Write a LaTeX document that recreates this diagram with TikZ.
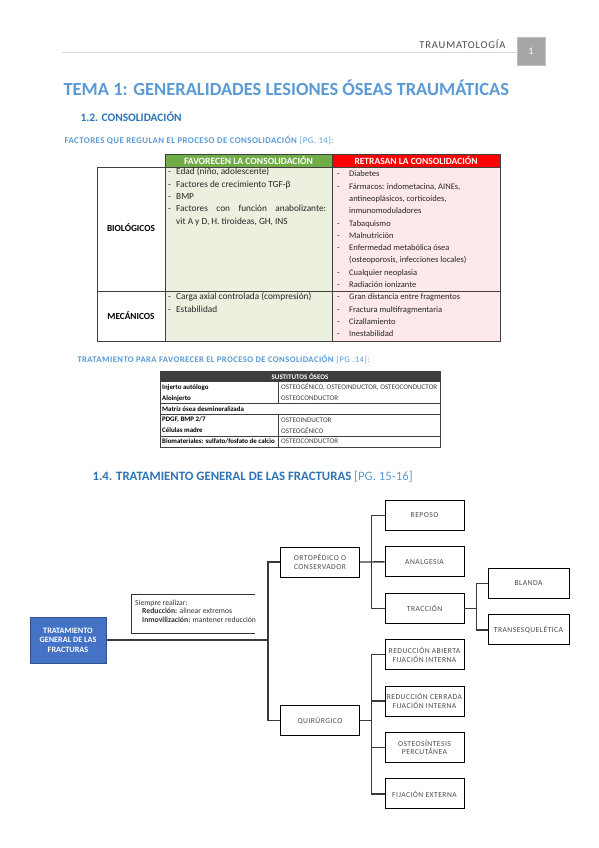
\documentclass[tikz,border=0pt]{standalone}
\usepackage{fontspec}
\setmainfont{Carlito}
\usepackage{array}
\usetikzlibrary{positioning}

\definecolor{titleblue}{HTML}{5B9BD5}
\definecolor{headblue}{HTML}{2E74B5}
\definecolor{boxblue}{HTML}{4472C4}
\definecolor{boxedge}{HTML}{2F528F}
\definecolor{favgreen}{HTML}{70AD47}
\definecolor{favlight}{HTML}{EBF1DE}
\definecolor{retred}{HTML}{FF0000}
\definecolor{retlight}{HTML}{FDE9E9}
\definecolor{rulegray}{HTML}{404040}
\definecolor{linkgray}{HTML}{3A3A3A}
\definecolor{pagegray}{HTML}{A6A6A6}
\definecolor{sustgray}{HTML}{3F3F3F}

\tikzset{
  cellrule/.style={draw=rulegray, line width=0.8pt},
  celltext/.style={inner sep=0pt, anchor=north west, font=\fontsize{8.5}{12.3}\selectfont, text=black!85},
  opt/.style={draw=black, fill=white, line width=0.9pt, minimum width=79pt, minimum height=30pt,
    inner sep=0pt, align=center, font=\fontsize{7.6}{8.6}\selectfont\addfontfeature{LetterSpace=6}, text=black!70},
  link/.style={draw=linkgray, line width=1.4pt},
}

\begin{document}
\begin{tikzpicture}[x=1pt,y=-1pt]
\useasboundingbox[fill=white] (0,0) rectangle (599,848);

% cabecera de pagina
\draw[black!15, line width=0.8pt] (62,52) -- (517,52);
\node[anchor=east, text=black!70, font=\fontsize{10.5}{12}\selectfont\addfontfeature{LetterSpace=8}] (cab) at (509,44) {TRAUMATOLOGÍA};
\node[fill=pagegray, draw=black!25, minimum width=28pt, minimum height=28pt, text=white,
  font=\fontsize{10}{12}\selectfont] (pag) at (531,51) {1};

\node[anchor=west, text=titleblue, font=\fontsize{18.5}{21}\selectfont\bfseries] (tema) at (60,88)
  {TEMA 1: GENERALIDADES LESIONES ÓSEAS TRAUMÁTICAS};
\node[anchor=west, text=headblue, font=\fontsize{11.4}{14}\selectfont\bfseries] (cons) at (77,117)
  {1.2. CONSOLIDACIÓN};
\node[anchor=west, text=titleblue, font=\fontsize{8.8}{10}\selectfont\addfontfeature{LetterSpace=5}] (factores) at (61,140)
  {\textbf{FACTORES QUE REGULAN EL PROCESO DE CONSOLIDACIÓN} [PG. 14]:};

% tabla de factores
\filldraw[cellrule, fill=favgreen] (165,154) rectangle (332,167);
\filldraw[cellrule, fill=retred] (332,154) rectangle (500,167);
\node[text=white, font=\fontsize{9.6}{10}\selectfont\bfseries] (favhead) at (248.5,160.5) {FAVORECEN LA CONSOLIDACIÓN};
\node[text=white, font=\fontsize{9.5}{10}\selectfont\bfseries] (rethead) at (416,160.5) {RETRASAN LA CONSOLIDACIÓN};

\filldraw[cellrule, fill=white] (97,167) rectangle (165,291);
\filldraw[cellrule, fill=white] (97,291) rectangle (165,341);
\filldraw[cellrule, fill=favlight] (165,167) rectangle (332,291);
\filldraw[cellrule, fill=favlight] (165,291) rectangle (332,341);
\filldraw[cellrule, fill=retlight] (332,167) rectangle (500,291);
\filldraw[cellrule, fill=retlight] (332,291) rectangle (500,341);

\node[font=\fontsize{9.3}{11}\selectfont\bfseries] (bio) at (131,228) {BIOLÓGICOS};
\node[font=\fontsize{9.3}{11}\selectfont\bfseries] (mec) at (131,316) {MECÁNICOS};

\node[celltext, font=\fontsize{9.3}{12.3}\selectfont] (favbio) at (168,166) {\begin{tabular}{@{}p{8pt}@{}p{150pt}@{}}
-&Edad (niño, adolescente)\\
-&Factores de crecimiento TGF-β\\
-&BMP\\
-&Factores con función anabolizante:\linebreak vit A y D, H. tiroideas, GH, INS
\end{tabular}};
\node[celltext, font=\fontsize{9.3}{12.3}\selectfont] (favmec) at (168,291) {\begin{tabular}{@{}p{8pt}@{}p{150pt}@{}}
-&Carga axial controlada (compresión)\\
-&Estabilidad
\end{tabular}};
\node[celltext] (retbio) at (337,168) {\begin{tabular}{@{}p{12pt}@{}p{148pt}@{}}
-&Diabetes\\
-&Fármacos: indometacina, AINEs,\\
&antineoplásicos, corticoides,\\
&inmunomoduladores\\
-&Tabaquismo\\
-&Malnutrición\\
-&Enfermedad metabólica ósea\\
&(osteoporosis, infecciones locales)\\
-&Cualquier neoplasia\\
-&Radiación ionizante
\end{tabular}};
\node[celltext] (retmec) at (337,291) {\begin{tabular}{@{}p{12pt}@{}p{148pt}@{}}
-&Gran distancia entre fragmentos\\
-&Fractura multifragmentaria\\
-&Cizallamiento\\
-&Inestabilidad
\end{tabular}};

\node[anchor=west, text=titleblue, font=\fontsize{8.6}{10}\selectfont\addfontfeature{LetterSpace=5}] (trat) at (74,359)
  {\textbf{TRATAMIENTO PARA FAVORECER EL PROCESO DE CONSOLIDACIÓN} [PG .14]:};

% sustitutos oseos
\fill[sustgray] (160,371) rectangle (440,382);
\node[text=white, font=\fontsize{7}{8}\selectfont\bfseries] (susthead) at (300,376.5) {SUSTITUTOS ÓSEOS};
\draw[cellrule, line width=0.6pt] (160,371) rectangle (440,447);
\draw[cellrule, line width=0.6pt] (160,403.6) -- (440,403.6);
\draw[cellrule, line width=0.6pt] (160,414.4) -- (440,414.4);
\draw[cellrule, line width=0.6pt] (160,436) -- (440,436);
\draw[cellrule, line width=0.6pt] (278,382) -- (278,403.6);
\draw[cellrule, line width=0.6pt] (278,414.4) -- (278,447);
\foreach \y/\izq/\der in {387.4/{Injerto autólogo}/{OSTEOGÉNICO, OSTEOINDUCTOR, OSTEOCONDUCTOR},
  398.2/{Aloinjerto}/{OSTEOCONDUCTOR}, 409/{Matriz ósea desmineralizada}/{},
  419.8/{PDGF, BMP 2/7}/{OSTEOINDUCTOR}, 430.6/{Células madre}/{OSTEOGÉNICO},
  441.4/{Biomateriales: sulfato/fosfato de calcio}/{OSTEOCONDUCTOR}}{
  \node[anchor=west, inner sep=0pt, font=\fontsize{6.9}{8}\selectfont\bfseries] at (162,\y) {\izq};
  \node[anchor=west, inner sep=0pt, text=black!75, font=\fontsize{7.1}{8}\selectfont] at (281,\y) {\der};
}

\node[anchor=west, text=headblue, font=\fontsize{12.8}{14}\selectfont\bfseries] (trgen) at (89,477)
  {1.4. TRATAMIENTO GENERAL DE LAS FRACTURAS \textcolor{titleblue}{\mdseries [PG. 15-16]}};

% esquema
\node[draw=boxedge, fill=boxblue, line width=1pt, minimum width=76pt, minimum height=46pt, inner sep=0pt,
  text=white, align=center, font=\fontsize{8.2}{9.6}\selectfont\bfseries] (main) at (68,640)
  {TRATAMIENTO\\GENERAL DE LAS\\FRACTURAS};

\node[opt] (orto) at (320,562) {ORTOPÉDICO O\\CONSERVADOR};
\node[opt] (quir) at (320,720.5) {QUIRÚRGICO};

\node[opt] (reposo) at (424.5,515.5) {REPOSO};
\node[opt, below=15.5pt of reposo] (analg) {ANALGESIA};
\node[opt, below=15.5pt of analg] (trac) {TRACCIÓN};
\node[opt, below=15.5pt of trac] (rabierta) {REDUCCIÓN ABIERTA\\FIJACIÓN INTERNA};
\node[opt, below=15.5pt of rabierta] (rcerrada) {REDUCCIÓN CERRADA\\FIJACIÓN INTERNA};
\node[opt, below=15.5pt of rcerrada] (osteo) {OSTEOSÍNTESIS\\PERCUTÁNEA};
\node[opt, below=15.5pt of osteo] (fijext) {FIJACIÓN EXTERNA};

\node[opt, minimum width=81pt] (blanda) at (528.5,583.5) {BLANDA};
\node[opt, minimum width=81pt, below=15.5pt of blanda] (transesq) {TRANSESQUELÉTICA};

\coordinate (j1) at (268,640);
\draw[link] (main.east) -- (j1);
\draw[link] (orto.west) -- ++(-12,0) |- (quir.west);
\draw[link] (orto.east) -- (analg.west);
\draw[link] (reposo.west) -- ++(-13,0) |- (trac.west);
\draw[link] (trac.east) -- ++(13,0);
\draw[link] (blanda.west) -- ++(-11,0) |- (transesq.west);
\draw[link] (quir.east) -- ++(12.5,0);
\draw[link] (rabierta.west) -- ++(-13,0) |- (fijext.west);
\draw[link] (rcerrada.west) -- ++(-13,0);
\draw[link] (osteo.west) -- ++(-13,0);

% recuadro siempre realizar
\draw[black!80, line width=0.9pt] (255,594) -- (131,594) -- (131,633) -- (255,633);
\begin{scope}
\clip (131,590) rectangle (255,640);
\node[anchor=north west, inner sep=0pt, align=left, text=black!80, font=\fontsize{7.7}{8.3}\selectfont] (siempre) at (135,600)
  {Siempre realizar:\\
  \hspace*{7pt}\textbf{Reducción:} alinear extremos\\
  \hspace*{7pt}\textbf{Inmovilización:} mantener reducción};
\end{scope}

\end{tikzpicture}
\end{document}
